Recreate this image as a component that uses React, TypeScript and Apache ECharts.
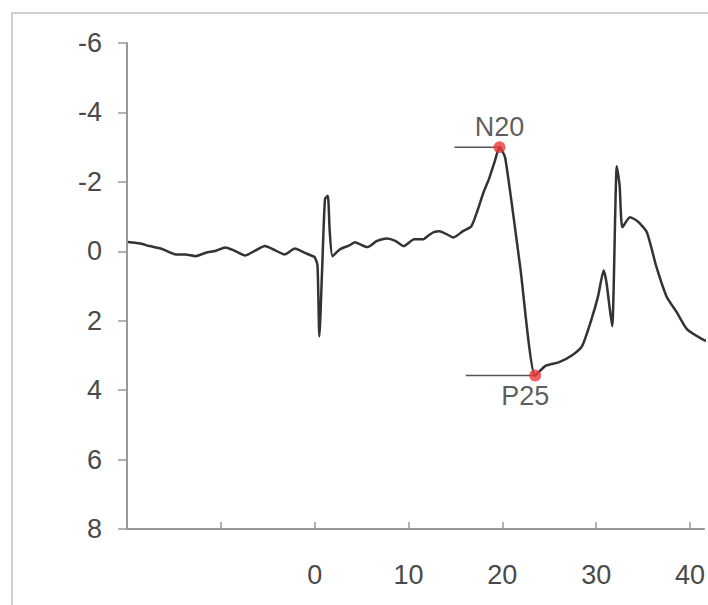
import React, { useEffect, useRef } from "react";
import * as echarts from "echarts";

// Waveform samples [latency ms, amplitude µV]
const waveX: number[] = [
  -19.9, -18.7, -17.6, -16.2, -14.8, -13.8, -12.7, -11.6, -10.6, -9.5, -8.5, -7.4, -6.4, -5.3, -4.3, -3.2, -2.1, -1.1, -0.2,
  0.0, 0.3, 0.5, 0.8, 1.1, 1.4, 1.6, 1.9,
  2.7, 3.7, 4.3, 5.0, 5.6, 6.6, 7.7, 8.6, 9.5, 10.6, 11.6, 12.1, 12.7, 13.3, 14.0, 14.8, 15.8, 16.7, 17.4, 18.0, 18.6, 19.2, 19.7, 20.3,
  21.9, 23.5, 24.6, 26.0, 27.4, 28.5, 29.5, 30.2, 30.8, 31.1, 31.7, 32.2, 32.5, 32.8, 33.6, 34.4, 35.4, 36.4, 37.5, 38.6, 39.7, 41.3, 42.0,
];
const waveY: number[] = [
  -0.27, -0.23, -0.15, -0.06, 0.09, 0.09, 0.14, 0.04, -0.01, -0.11, -0.01, 0.12, -0.01, -0.15, -0.04, 0.09, -0.08, 0.04, 0.14,
  0.17, 0.4, 2.45, 0.5, -1.5, -1.6, -0.6, 0.14,
  -0.06, -0.17, -0.26, -0.18, -0.12, -0.29, -0.37, -0.3, -0.15, -0.35, -0.35, -0.45, -0.55, -0.58, -0.5, -0.4, -0.58, -0.72, -1.21, -1.7, -2.1, -2.6, -3.0, -2.7,
  0.44, 3.58, 3.3, 3.2, 3.0, 2.73, 1.96, 1.3, 0.55, 0.9, 2.16, -2.45, -1.9, -0.69, -0.98, -0.87, -0.55, 0.43, 1.3, 1.76, 2.25, 2.53, 2.6,
];

// Peak markers
const peakNames: string[] = ["N20", "P25"];
const peakX: number[] = [19.7, 23.5];
const peakY: number[] = [-3.0, 3.58];
const peakLineStart: number[] = [14.9, 16.1];

const xTickLabels: number[] = [0, 10, 20, 30, 40];

export default function App() {
  const ref = useRef<HTMLDivElement>(null);
  useEffect(() => {
    if (!ref.current) return;
    const chart = echarts.init(ref.current, undefined, { renderer: "svg" });
    const wave = waveX.map((x, i) => [x, waveY[i]]);
    const lineSeries = peakNames.map((n, i) => ({
      type: "line" as const,
      name: n + "-ref",
      data: [
        [peakLineStart[i], peakY[i]],
        [peakX[i], peakY[i]],
      ],
      symbol: "none",
      lineStyle: { color: "#555", width: 1.5 },
      z: 2,
    }));
    const font = "Liberation Sans, Arial, sans-serif";
    chart.setOption({
      animation: false,
      backgroundColor: "#fff",
      graphic: [
        {
          type: "rect",
          shape: { x: 12, y: 13, width: 720, height: 620 },
          style: { fill: "none", stroke: "#cfcfcf", lineWidth: 2 },
          silent: true,
        },
      ],
      grid: { left: 127, top: 43, right: 0, height: 486, containLabel: false },
      xAxis: {
        type: "value",
        min: -20,
        max: 41.5,
        interval: 10,
        axisLine: { onZero: false, lineStyle: { color: "#999", width: 2 } },
        axisTick: { inside: true, length: 7, lineStyle: { color: "#999", width: 1.5 } },
        splitLine: { show: false },
        axisLabel: {
          margin: 32,
          fontSize: 27,
          fontFamily: font,
          color: "#4a4a4a",
          showMaxLabel: false,
          formatter: (v: number) => (xTickLabels.indexOf(v) >= 0 ? String(v) : ""),
        },
      },
      yAxis: {
        type: "value",
        inverse: true,
        min: -6,
        max: 8,
        interval: 2,
        axisLine: { show: true, onZero: false, lineStyle: { color: "#999", width: 2 } },
        axisTick: { show: true, length: 9, lineStyle: { color: "#999", width: 1.5 } },
        splitLine: { show: false },
        axisLabel: {
          margin: 25,
          fontSize: 27,
          fontFamily: font,
          color: "#4a4a4a",
        },
      },
      series: [
        {
          type: "line",
          name: "SEP",
          data: wave,
          symbol: "none",
          smooth: 0.2,
          lineStyle: { color: "#333", width: 2.5 },
          z: 3,
        },
        ...lineSeries,
        {
          type: "scatter",
          name: "peaks",
          data: peakNames.map((n, i) => ({
            value: [peakX[i], peakY[i]],
            name: n,
            label: i === 0
              ? { position: "top", distance: 1, offset: [0, 0] }
              : { position: "bottom", distance: 1, offset: [-10, 0] },
          })),
          symbolSize: 12,
          itemStyle: { color: "#ee3838" },
          label: {
            show: true,
            formatter: (p: any) => p.name,
            fontSize: 27,
            fontFamily: font,
            color: "#333",
          },
          z: 5,
        },
      ],
    });
    return () => chart.dispose();
  }, []);
  return (
    <div
      ref={ref}
      style={{ position: "fixed", left: 0, top: 0, width: 708, height: 605 }}
    />
  );
}
